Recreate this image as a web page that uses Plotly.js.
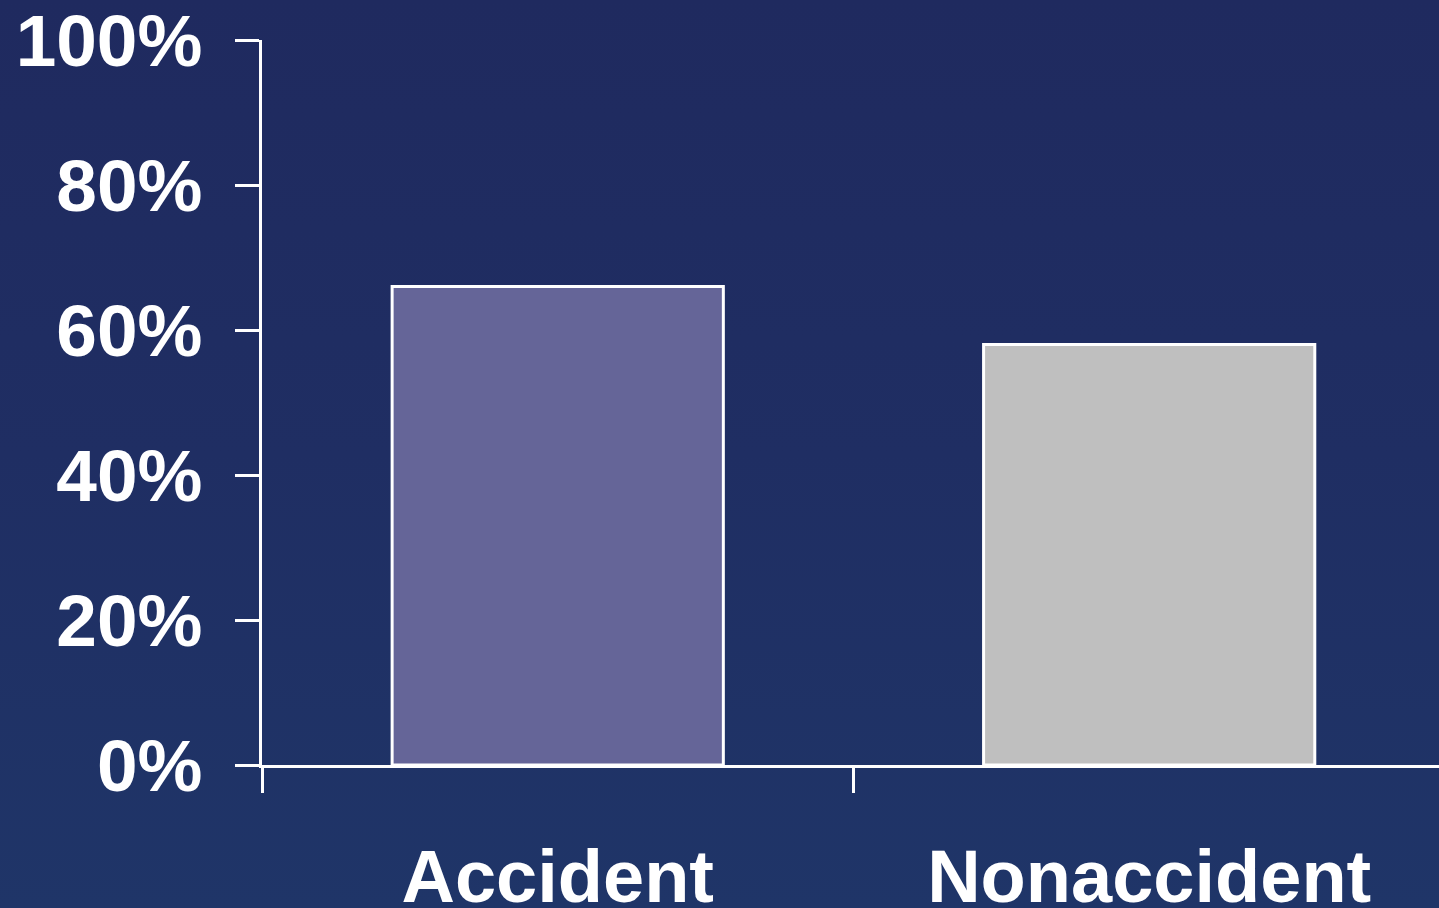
<!DOCTYPE html>
<html>
<head>
<meta charset="utf-8">
<script src="https://cdn.plot.ly/plotly-3.0.1.min.js"></script>
<style>
html,body{margin:0;padding:0;width:1439px;height:908px;overflow:hidden;}
body{background:linear-gradient(180deg,#1f2a5f 0%,#1f2e63 50%,#1f3568 100%);}
#chart{width:1439px;height:908px;}
</style>
</head>
<body>
<div id="chart"></div>
<script>
const categories = ["Accident", "Nonaccident"];
const percentValues = [66, 58];
const barColors = ["#656598", "#bfbfbf"];
const yTickValues = [0, 20, 40, 60, 80, 100];
const yTickLabels = ["0%", "20%", "40%", "60%", "80%", "100%"];

const fontFam = "Liberation Sans, Arial, sans-serif";

const trace = {
  type: "bar",
  x: categories,
  y: percentValues,
  width: 0.56,
  marker: {color: barColors, line: {color: "#ffffff", width: 3}},
  hoverinfo: "none"
};

const layout = {
  width: 1439,
  height: 908,
  margin: {l: 262, r: 0, t: 40, b: 143, pad: 0},
  paper_bgcolor: "rgba(0,0,0,0)",
  plot_bgcolor: "rgba(0,0,0,0)",
  showlegend: false,
  bargap: 0,
  xaxis: {
    type: "category",
    range: [-0.5, 1.49],
    showline: true,
    linecolor: "#ffffff",
    linewidth: 3,
    ticks: "outside",
    tickson: "boundaries",
    ticklen: 25,
    tickwidth: 3,
    tickcolor: "#ffffff",
    showgrid: false,
    zeroline: false,
    ticklabelstandoff: 45,
    ticklabeloverflow: "allow",
    tickfont: {family: fontFam, size: 74, color: "#ffffff", weight: "bold"}
  },
  yaxis: {
    range: [0, 100],
    tickmode: "array",
    tickvals: yTickValues,
    ticktext: yTickLabels,
    showline: true,
    linecolor: "#ffffff",
    linewidth: 3,
    ticks: "outside",
    ticklen: 24,
    tickwidth: 3,
    tickcolor: "#ffffff",
    showgrid: false,
    zeroline: false,
    ticklabelstandoff: 18,
    ticklabeloverflow: "allow",
    tickfont: {family: fontFam, size: 73, color: "#ffffff", weight: "bold"}
  }
};

Plotly.newPlot("chart", [trace], layout, {displayModeBar: false, staticPlot: true});
</script>
</body>
</html>
